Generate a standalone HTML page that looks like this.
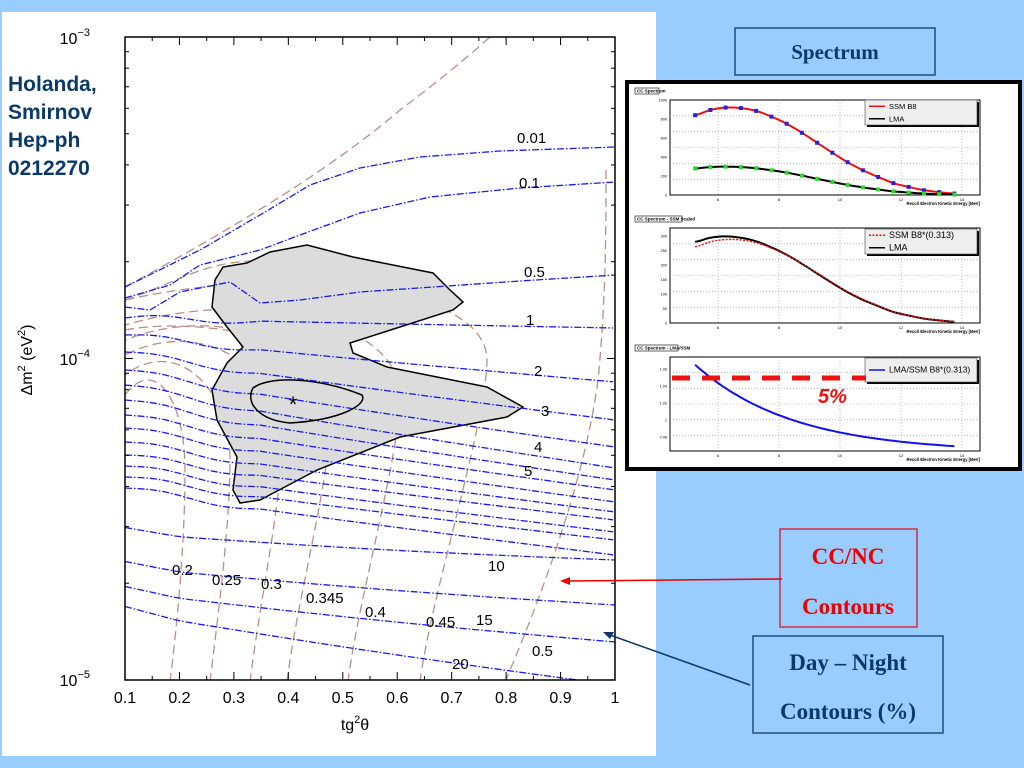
<!DOCTYPE html>
<html><head><meta charset="utf-8"><style>
html,body{margin:0;padding:0;background:#99ccff;width:1024px;height:768px;overflow:hidden}
svg{display:block}
</style></head><body>
<svg id="s" width="1024" height="768" xmlns="http://www.w3.org/2000/svg" font-family="Liberation Sans, Arial, sans-serif">
<rect width="1024" height="768" fill="#99ccff"/>
<rect x="2" y="12" width="654" height="744" fill="#ffffff"/>
<defs><clipPath id="pc"><rect x="125" y="37" width="490" height="643"/></clipPath></defs>
<g id="plot" clip-path="url(#pc)"></g>
<g id="frame"></g>
<g font-size="15" fill="#000">
<text x="517" y="143">0.01</text><text x="519" y="188">0.1</text><text x="524" y="277">0.5</text>
<text x="526" y="325">1</text><text x="534" y="376">2</text><text x="541" y="416">3</text>
<text x="534" y="452">4</text><text x="524" y="476">5</text><text x="488" y="571">10</text>
<text x="476" y="625">15</text><text x="452" y="669">20</text>
<text x="172" y="575">0.2</text><text x="212" y="585">0.25</text><text x="261" y="589">0.3</text>
<text x="306" y="603">0.345</text><text x="365" y="617">0.4</text><text x="426" y="627">0.45</text>
<text x="532" y="656">0.5</text>
</g>
<g font-size="16" fill="#000" text-anchor="middle" id="xl"></g>
<g font-size="16" fill="#000" text-anchor="end">
<text x="90" y="44">10<tspan font-size="11" dy="-8">−3</tspan></text>
<text x="90" y="365">10<tspan font-size="11" dy="-8">−4</tspan></text>
<text x="90" y="686">10<tspan font-size="11" dy="-8">−5</tspan></text>
</g>
<text x="355" y="730" font-size="16" text-anchor="middle">tg<tspan font-size="11" dy="-7">2</tspan><tspan dy="7">θ</tspan></text>
<text transform="translate(32,360) rotate(-90)" font-size="16" text-anchor="middle">Δm<tspan font-size="11" dy="-7">2</tspan><tspan dy="7"> (eV</tspan><tspan font-size="11" dy="-7">2</tspan><tspan dy="7">)</tspan></text>
<g font-size="21" font-weight="bold" fill="#0b3a6a">
<text x="8" y="91">Holanda,</text><text x="8" y="119">Smirnov</text>
<text x="8" y="147">Hep-ph</text><text x="8" y="175">0212270</text>
</g>
<rect x="735" y="28" width="200" height="47" fill="#99ccff" stroke="#1f4e79" stroke-width="1.5"/>
<text x="835" y="59" font-family="Liberation Serif, serif" font-weight="bold" font-size="21" fill="#0b3a6a" text-anchor="middle">Spectrum</text>
<rect x="780" y="529" width="137" height="98" fill="#99ccff" stroke="#cc3344" stroke-width="1.5"/>
<text x="848" y="564" font-family="Liberation Serif, serif" font-weight="bold" font-size="23" fill="#ee0000" text-anchor="middle">CC/NC</text>
<text x="848" y="614" font-family="Liberation Serif, serif" font-weight="bold" font-size="23" fill="#ee0000" text-anchor="middle">Contours</text>
<rect x="753" y="636" width="190" height="97" fill="#99ccff" stroke="#1f4e79" stroke-width="1.5"/>
<text x="848" y="670" font-family="Liberation Serif, serif" font-weight="bold" font-size="23" fill="#0b3a6a" text-anchor="middle">Day – Night</text>
<text x="848" y="719" font-family="Liberation Serif, serif" font-weight="bold" font-size="23" fill="#0b3a6a" text-anchor="middle">Contours (%)</text>
<line x1="782" y1="579" x2="568" y2="581" stroke="#ee0000" stroke-width="1.5"/>
<polygon points="560,581 570,577 570,585" fill="#ee0000"/>
<line x1="750" y1="685" x2="610" y2="635" stroke="#0b3a6a" stroke-width="1.5"/>
<polygon points="603,632 614,632 610,639" fill="#0b3a6a"/>
<rect x="627" y="82" width="393" height="387" fill="#fff" stroke="#000" stroke-width="4"/>
<g id="inset"></g>
</svg>
<script>
const NS="http://www.w3.org/2000/svg";
function el(p,t,a,txt){const e=document.createElementNS(NS,t);for(const k in a)e.setAttribute(k,a[k]);if(txt!==undefined)e.textContent=txt;document.getElementById(p).appendChild(e);return e;}
function pathFrom(pts){return "M"+pts.map(p=>p[0].toFixed(1)+","+p[1].toFixed(1)).join(" L");}
const br={stroke:"#b89088",fill:"none","stroke-width":1.3,"stroke-dasharray":"9,5"};
const arcs=[[170,185,470,395],[210,230,460,375],[250,282,440,355],[287,330,420,340],[348,400,395,325],[420,487,360,300]];
arcs.forEach(a=>{const[xb,xr,yr,yl]=a;
 el("plot","path",Object.assign({d:`M${xb},682 C${xb+10},600 ${xr},${yr+60} ${xr},${yr} C${xr},${yr-70} ${(xr+125)/2},${yl-40} 125,${yl}`},br));});
el("plot","path",Object.assign({d:"M505,682 C540,600 585,480 598,380 C606,300 606,230 606,170"},br));
el("plot","path",Object.assign({d:"M125,287 C230,230 330,170 400,110 C440,80 470,55 490,37"},br));
el("plot","path",Object.assign({d:"M125,300 C170,285 200,265 240,262 C300,255 380,262 440,290"},br));
el("plot","path",Object.assign({d:"M125,330 C180,320 240,330 300,345 C330,355 350,370 360,380"},br));
el("plot","path",{d:"M247,263 L270,252 307,245 353,257 433,273 450,290 463,302 453,310 350,343 353,353 387,367 487,387 523,407 507,417 400,437 317,470 260,500 240,503 233,490 237,457 217,420 212,390 227,363 243,347 227,327 212,307 215,280 223,267 Z",fill:"#dcdcdc",stroke:"#000","stroke-width":1.5});
const bl={stroke:"#1a1aee",fill:"none","stroke-width":1.3,"stroke-dasharray":"7,2,1.5,2"};
function line(pts){el("plot","path",Object.assign({d:pathFrom(pts)},bl));}
line([[125,287],[200,250],[260,215],[310,185],[360,168],[420,157],[500,151],[615,147]]);
line([[125,298],[170,285],[200,265],[260,250],[300,235],[360,213],[430,197],[520,188],[615,182]]);
line([[125,307],[150,310],[180,292],[230,282],[260,303],[300,300],[360,292],[433,287],[520,281],[615,275]]);
const mids=[[318,328],[335,382],[352,420],[370,447],[385,468],[400,480],[415,490],[428,502],[442,512],[455,520],[466,532],[477,540],[488,555]];
mids.forEach((m,i)=>{const pts=[];for(let x=125;x<=615;x+=8){const t=(x-125)/490;let y=m[0]+(m[1]-m[0])*Math.pow(t,0.9);
 if(x<260)y+=-3.5*Math.sin((x-125)/135*Math.PI*2)*(1-t);pts.push([x,y]);}line(pts);});
[[533,560],[567,605],[592,642],[612,685]].forEach(m=>{const pts=[];for(let x=125;x<=615;x+=10){const t=(x-125)/490;pts.push([x,m[0]+(m[1]-m[0])*t+8*Math.sin(t*Math.PI)*0.3-(x<180?(180-x)*0.1:0)]);}line(pts);});
el("plot","path",{d:"M253,388 C270,375 320,378 362,395 C368,405 340,420 290,423 C258,420 245,402 253,388 Z",fill:"none",stroke:"#000","stroke-width":1.5});
el("plot","text",{x:293,y:412,"font-size":"22","text-anchor":"middle"},"*");
el("frame","rect",{x:125,y:37,width:490,height:643,fill:"none",stroke:"#000","stroke-width":1.5});
for(let i=0;i<=9;i++){const x=125+i*490/9;
 el("frame","line",{x1:x,y1:680,x2:x,y2:672,stroke:"#000"});el("frame","line",{x1:x,y1:37,x2:x,y2:45,stroke:"#000"});
 if(i<9){const xm=x+245/9;el("frame","line",{x1:xm,y1:680,x2:xm,y2:676,stroke:"#000"});el("frame","line",{x1:xm,y1:37,x2:xm,y2:41,stroke:"#000"});}
 el("xl","text",{x:x,y:703},i==9?"1":"0."+(i+1));}
const dec=321.5;
[0,1,2].forEach(d=>{const y0=37+d*dec;for(let k=1;k<=10;k++){const y=y0+dec-Math.log10(k)*dec;if(y>680)continue;const w=(k==1||k==10)?8:4;
 el("frame","line",{x1:125,y1:y,x2:125+w,y2:y,stroke:"#000"});el("frame","line",{x1:615,y1:y,x2:615-w,y2:y,stroke:"#000"});}});
const X=E=>718+(E-6)*30.5;
function panel(y0,y1,title,tw){
 el("inset","rect",{x:670,y:y0,width:310,height:y1-y0,fill:"#fff",stroke:"#000","stroke-width":1});
 for(const E of [6,8,10,12,14]){el("inset","line",{x1:X(E),y1:y0,x2:X(E),y2:y1,stroke:"#999","stroke-dasharray":"1,2","stroke-width":0.6});
  el("inset","text",{x:X(E),y:y1+6,"font-size":4,"text-anchor":"middle"},E);}
 for(let k=1;k<6;k++){const y=y0+(y1-y0)*k/6;el("inset","line",{x1:670,y1:y,x2:980,y2:y,stroke:"#999","stroke-dasharray":"1,2","stroke-width":0.6});}
 el("inset","text",{x:980,y:y1+10,"font-size":4.2,"text-anchor":"end","font-weight":"bold"},"Recoil Electron Kinetic Energy [MeV]");
 el("inset","rect",{x:635,y:y0-12,width:tw,height:6,fill:"#fff",stroke:"#000","stroke-width":0.6});
 el("inset","text",{x:637,y:y0-7.5,"font-size":4.5,"font-weight":"bold"},title);
}
panel(100,195,"CC Spectrum",24);panel(228,323,"CC Spectrum - SSM Scaled",47);panel(357,451,"CC Spectrum - LMA/SSM",43);
const Es=[],S=[840,895,920,915,885,825,750,655,550,445,345,260,190,125,85,50,30,15];
for(let i=0;i<18;i++)Es.push(5.25+0.5*i);
const r=E=>0.962+0.103*Math.exp(-(E-5.25)/3.2);
const Y1=v=>195-v*0.095, Y2=v=>323-v*0.29, Y3=v=>420-(v-1)*850;
function pl(f,Y,st){const pts=[];for(let E=5.25;E<=13.76;E+=0.125){const i=(E-5.25)/0.5;const i0=Math.min(16,Math.floor(i));const t=i-i0;
 const a=S[Math.max(0,i0-1)],b=S[i0],c=S[i0+1],d=S[Math.min(17,i0+2)];
 const v=0.5*((2*b)+(-a+c)*t+(2*a-5*b+4*c-d)*t*t+(-a+3*b-3*c+d)*t*t*t);pts.push([X(E),Y(f(v,E))]);}
 el("inset","path",Object.assign({d:pathFrom(pts),fill:"none"},st));}
pl((v)=>v,Y1,{stroke:"#ee1111","stroke-width":2});
pl((v,E)=>v*0.313*r(E),Y1,{stroke:"#000","stroke-width":2});
Es.forEach((E,i)=>{el("inset","rect",{x:X(E)-2,y:Y1(S[i])-2,width:4,height:4,fill:"#2222dd"});
 el("inset","rect",{x:X(E)-2,y:Y1(S[i]*0.313*r(E))-2,width:4,height:4,fill:"#22dd22"});});
pl((v,E)=>v*0.313*r(E),Y2,{stroke:"#000","stroke-width":2});
pl((v)=>v*0.313,Y2,{stroke:"#ee1111","stroke-width":1.5,"stroke-dasharray":"2,1.5"});
pl((v,E)=>r(E),Y3,{stroke:"#1111ee","stroke-width":2});
function leg(x,y,w,h,items){el("inset","rect",{x:x+2,y:y+2,width:w,height:h,fill:"#000"});el("inset","rect",{x:x,y:y,width:w,height:h,fill:"#eee",stroke:"#444","stroke-width":0.6});
 items.forEach((it,i)=>{const yy=y+(i+0.5)*h/items.length;el("inset","line",Object.assign({x1:x+4,y1:yy,x2:x+20,y2:yy,"stroke-width":1.5},it[1]));
 el("inset","text",{x:x+24,y:yy+2.5,"font-size":it[2]||7.5},it[0]);});}
leg(865,100,112,25,[["SSM B8",{stroke:"#ee1111"}],["LMA",{stroke:"#000"}]]);
leg(865,229,112,25,[["SSM B8*(0.313)",{stroke:"#ee1111","stroke-dasharray":"2,1.5"},9],["LMA",{stroke:"#000"},9]]);
leg(865,358,112,24,[["LMA/SSM B8*(0.313)",{stroke:"#1111ee"},8.5]]);
[[0,195],[200,176],[400,157],[600,138],[800,119],[1000,100]].forEach(t=>el("inset","text",{x:667,y:t[1]+1.5,"font-size":3.8,"text-anchor":"end"},t[0]));
[[0,323],[50,308.5],[100,294],[150,279.5],[200,265],[250,250.5],[300,236]].forEach(t=>el("inset","text",{x:667,y:t[1]+1.5,"font-size":3.8,"text-anchor":"end"},t[0]));
[[0.98,437],[1,420],[1.02,403],[1.04,386],[1.06,369]].forEach(t=>el("inset","text",{x:667,y:t[1]+1.5,"font-size":3.8,"text-anchor":"end"},t[0]));
el("inset","line",{x1:672,y1:378,x2:866,y2:378,stroke:"#ee1111","stroke-width":5,"stroke-dasharray":"18,12"});
el("inset","text",{x:818,y:403,"font-size":20,"font-weight":"bold","font-style":"italic",fill:"#ee1111"},"5%");
</script>
</body></html>
